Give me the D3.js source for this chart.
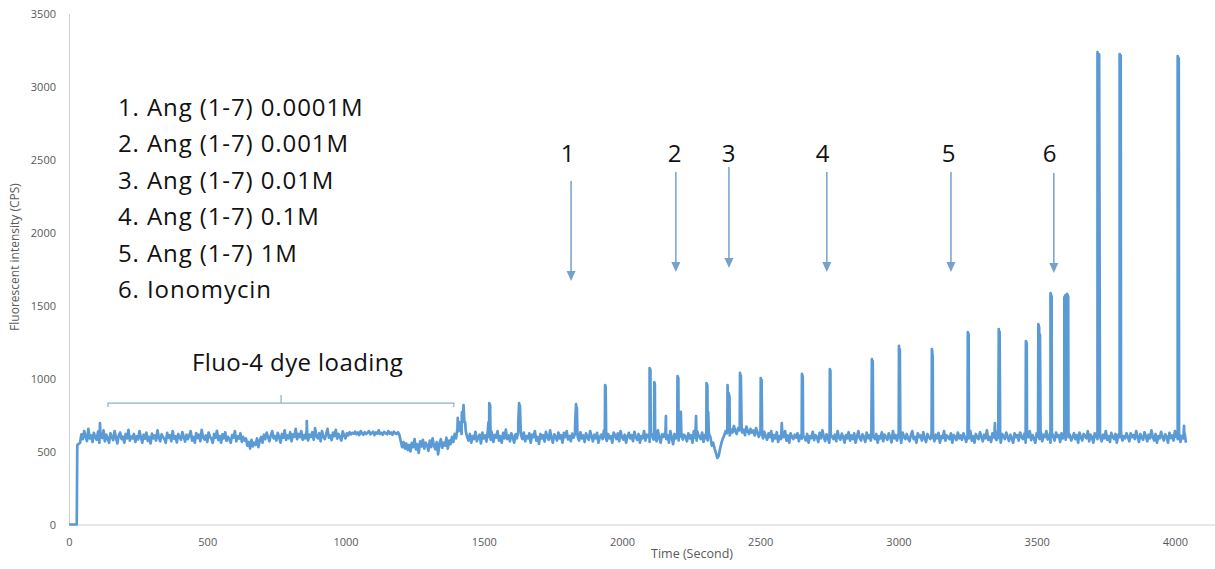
<!DOCTYPE html>
<html>
<head>
<meta charset="utf-8">
<script src="https://cdn.jsdelivr.net/npm/d3@7"></script>
<style>
  body { margin: 0; background: #fff; }
  .axis text { font-family: "Open Sans", sans-serif; font-size: 11px; fill: #595959; }
  .axis path { stroke: #d0d0d0; }
  .note { font-family: "Open Sans", sans-serif; font-size: 24px; fill: #111; letter-spacing: 0.9px; }
</style>
</head>
<body>
<script>
// x / y tick values
const X_TICKS = [0, 500, 1000, 1500, 2000, 2500, 3000, 3500, 4000];
const Y_TICKS = [0, 500, 1000, 1500, 2000, 2500, 3000, 3500];

// trace start (before dye added)
const startPoints = [[0, 0], [10, 0], [20, 0], [28, 0]];

// baseline read every 5 s, starting at t = 30 (one row = 200 s)
const BASE_T0 = 30, BASE_STEP = 5;
const baseline = [
  545,552,560,618,585,640,600,572,655,590,610,565,628,598,580,636,560,605,592,645,570,615,588,560,625,600,578,640,595,555,612,630,585,602,560,620,590,648,575,603,
  590,620,565,604,582,640,598,560,615,588,630,572,600,555,622,590,610,575,645,596,570,618,600,585,560,628,594,612,570,640,588,605,562,620,598,580,632,600,568,615,
  585,610,640,575,600,560,626,592,615,570,648,598,582,610,565,630,600,588,560,620,595,642,578,606,560,618,590,632,572,600,585,560,612,596,640,570,604,588,625,566,
  600,575,590,540,565,520,580,535,560,545,590,530,575,600,560,615,585,630,598,570,612,640,590,605,575,628,600,560,620,595,645,580,610,590,632,570,618,600,655,585,
  620,598,640,580,612,590,650,575,615,600,632,580,660,605,590,625,570,640,600,585,618,655,595,610,578,630,605,648,588,620,600,575,638,612,590,625,610,632,618,628,
  622,636,618,630,612,640,625,615,632,620,628,640,618,626,635,612,630,622,645,620,628,615,634,626,618,640,622,630,615,636,625,620,632,614,570,530,565,520,555,510,
  545,500,560,530,585,515,550,490,570,535,580,520,560,545,505,575,530,590,540,515,565,480,550,585,525,560,540,595,520,575,550,600,565,620,590,660,640,700,620,740,
  700,640,600,575,620,560,605,585,635,570,598,615,555,630,590,610,568,645,600,580,622,565,612,596,640,575,605,560,628,590,650,585,610,570,625,600,560,618,590,640,
  680,610,585,630,570,605,590,625,560,615,598,640,575,600,552,620,590,612,568,635,600,580,645,592,560,618,602,575,630,590,612,560,628,598,640,582,606,570,622,595,
  620,680,600,575,632,590,610,565,625,598,580,640,605,570,615,590,628,560,600,615,585,645,596,572,620,590,605,560,630,612,585,625,570,640,598,582,615,560,605,628,
  590,612,570,635,598,580,620,560,606,590,640,575,615,598,565,628,600,582,612,570,645,592,560,618,600,625,585,612,560,640,598,550,620,590,612,575,630,600,582,615,
  600,570,625,590,612,560,640,595,575,620,600,585,630,565,610,592,575,620,598,540,560,520,490,455,470,520,560,590,610,640,625,660,610,650,630,675,640,620,660,645,
  665,630,650,612,670,640,620,655,630,645,610,660,628,600,642,615,590,635,605,580,625,598,640,570,612,590,632,565,605,585,620,598,640,575,610,560,625,600,585,615,
  595,625,570,610,588,640,600,575,620,560,605,592,635,578,612,600,565,628,590,645,600,572,618,590,560,630,605,585,615,570,640,596,580,622,600,560,612,590,632,575,
  610,585,625,560,600,640,590,575,618,600,565,630,592,612,575,640,600,585,620,560,605,590,632,570,615,598,580,625,600,562,640,590,612,575,620,598,560,630,600,585,
  620,590,570,612,640,585,600,560,625,598,610,575,632,590,565,620,600,585,645,598,570,615,590,628,560,605,592,640,575,610,598,585,625,560,612,600,578,630,590,610,
  580,625,600,565,612,590,640,575,605,560,620,598,585,632,600,570,615,590,645,580,600,565,625,598,612,578,640,590,560,620,605,585,630,600,572,615,590,560,625,598,
  612,575,630,600,585,620,560,605,598,640,578,612,590,560,625,600,585,632,570,615,598,640,582,605,560,620,598,575,630,600,612,565,625,590,605,580,640,598,615,575,
  600,625,585,612,560,630,598,575,620,605,590,640,570,615,598,560,625,600,585,632,598,570,615,590,640,580,605,565,628,600,585,620,560,612,598,640,575,605,590,625,
  600,570,625,598,612,585,640,600,565,620,598,580,632,605,570,615,590,645,600,575,620,560,605,590,635,598,575,618,600,560,628,592,610,575,640,600,585,620,565,605,
  590,625,560
];

// responses (spikes): [time, CPS]
const spikePoints = [
  [112, 695], [114, 600], [860, 709], [862, 600],
  [1406, 730], [1412, 650], [1421, 770], [1427, 818], [1433, 700],
  [1517, 700], [1520, 832], [1523, 820], [1527, 640],
  [1625, 700], [1628, 832], [1631, 815], [1634, 640],
  [1831, 700], [1834, 825], [1837, 800], [1839, 620],
  [1938, 600], [1939, 955], [1941, 945], [1943, 590],
  [2099, 620], [2100, 1072], [2103, 1060], [2104, 640],
  [2116, 620], [2117, 976], [2119, 960], [2122, 600],
  [2157, 600], [2159, 743], [2162, 600],
  [2200, 620], [2201, 1017], [2204, 1000], [2206, 640],
  [2211, 620], [2213, 771], [2216, 620],
  [2266, 620], [2268, 743], [2272, 640],
  [2304, 620], [2306, 969], [2309, 950], [2312, 771], [2314, 640],
  [2381, 640], [2382, 955], [2386, 900], [2389, 873], [2394, 650],
  [2426, 650], [2427, 1038], [2430, 1020], [2433, 650],
  [2501, 620], [2502, 1003], [2505, 990], [2507, 620],
  [2576, 600], [2578, 695], [2580, 600],
  [2649, 600], [2651, 1031], [2654, 1010], [2656, 600],
  [2751, 600], [2752, 1065], [2754, 1050], [2756, 600],
  [2902, 600], [2904, 1133], [2907, 1120], [2909, 600],
  [3001, 600], [3002, 1223], [3005, 1200], [3007, 600],
  [3119, 600], [3121, 1202], [3124, 1150], [3126, 600],
  [3249, 600], [3251, 1318], [3254, 1300], [3256, 600],
  [3347, 600], [3349, 695], [3351, 590],
  [3361, 600], [3363, 1339], [3366, 1320], [3368, 600],
  [3459, 600], [3461, 1257], [3464, 1240], [3466, 600],
  [3504, 620], [3506, 1373], [3509, 1350], [3512, 1300], [3514, 620],
  [3548, 620], [3550, 1585], [3554, 1560], [3557, 620],
  [3598, 620], [3600, 1555], [3604, 1570], [3607, 1500], [3610, 1580], [3614, 1560], [3617, 620],
  [3718, 620], [3720, 3236], [3726, 3220], [3729, 620],
  [3798, 620], [3800, 3222], [3804, 3210], [3806, 620],
  [4008, 620], [4010, 3209], [4014, 3190], [4016, 620],
  [4031, 600], [4033, 675], [4034, 590]
];

// legend lines
const legendLines = [
  "1. Ang (1-7) 0.0001M",
  "2. Ang (1-7) 0.001M",
  "3. Ang (1-7) 0.01M",
  "4. Ang (1-7) 0.1M",
  "5. Ang (1-7) 1M",
  "6. Ionomycin"
];

// addition markers: label, time of arrow, label time, arrow top / tip (CPS units)
const arrowLabels = ["1", "2", "3", "4", "5", "6"];
const arrowTimes  = [1816, 2195, 2387, 2741, 3190, 3562];
const labelTimes  = [1805, 2192, 2387, 2727, 3183, 3548];
const arrowTops   = [2353, 2414, 2449, 2414, 2414, 2407];
const arrowTips   = [1668, 1729, 1757, 1729, 1729, 1723];

// dye loading bracket (time span, level)
const loadStart = 141, loadEnd = 1392, loadMid = 767, loadLevel = 832;

const W = 1215, H = 569;

let xScale = d3.scaleLinear().domain([0, 4145]).range([69, 1215]);
let yScale = d3.scaleLinear().domain([0, 3500]).range([524.5, 13.5]);

let svg = d3.select("body").append("svg")
  .attr("width", W)
  .attr("height", H);

// build the full trace
let trace = startPoints.concat(
  baseline.map(function(v, i) { return [BASE_T0 + i * BASE_STEP, v]; }),
  spikePoints
).sort(function(a, b) { return a[0] - b[0]; });

// x axis
svg.append("g")
  .attr("class", "axis")
  .attr("transform", "translate(0," + yScale(0) + ")")
  .call(d3.axisBottom(xScale).tickValues(X_TICKS).tickFormat(d3.format("d"))
    .tickSize(0).tickSizeOuter(0).tickPadding(14));

// y axis
svg.append("g")
  .attr("class", "axis")
  .attr("transform", "translate(" + xScale(0) + ",0)")
  .call(d3.axisLeft(yScale).tickValues(Y_TICKS).tickFormat(d3.format("d"))
    .tickSize(0).tickSizeOuter(0).tickPadding(13));

// axis titles
svg.append("text")
  .attr("x", 692).attr("y", 558)
  .attr("text-anchor", "middle")
  .style("font-family", "Open Sans, sans-serif")
  .style("font-size", "12.5px")
  .style("fill", "#595959")
  .text("Time (Second)");

svg.append("text")
  .attr("transform", "translate(19,257) rotate(-90)")
  .attr("text-anchor", "middle")
  .style("font-family", "Open Sans, sans-serif")
  .style("font-size", "12px")
  .style("fill", "#595959")
  .text("Fluorescent intensity (CPS)");

// the trace
let line = d3.line()
  .x(function(d) { return xScale(d[0]); })
  .y(function(d) { return yScale(d[1]); });

svg.append("path")
  .datum(trace)
  .attr("d", line)
  .attr("fill", "none")
  .attr("stroke", "#5b9bd5")
  .attr("stroke-width", 2.7)
  .attr("stroke-linejoin", "round");

// legend text
svg.selectAll(".legend")
  .data(legendLines)
  .enter().append("text")
    .attr("class", "note")
    .attr("x", 118)
    .attr("y", function(d, i) { return 116 + i * 36.4; })
    .text(function(d) { return d; });

// dye loading bracket
let bx0 = xScale(loadStart), bx1 = xScale(loadEnd), bxm = xScale(loadMid), by = yScale(loadLevel);
svg.append("path")
  .attr("d", "M" + bx0 + "," + (by + 4) + "V" + by + "H" + bx1 + "V" + (by + 4) +
             "M" + bxm + "," + by + "V" + (by - 8))
  .attr("fill", "none")
  .attr("stroke", "#8aaecf")
  .attr("stroke-width", 1.2);

svg.append("text")
  .attr("class", "note")
  .attr("x", 192).attr("y", 371)
  .style("letter-spacing", "0.4px")
  .text("Fluo-4 dye loading");

// arrows
let arrowColor = "#75a1ca";
arrowTimes.forEach(function(t, i) {
  let ax = xScale(t), top = yScale(arrowTops[i]), tip = yScale(arrowTips[i]);
  svg.append("line")
    .attr("x1", ax).attr("x2", ax)
    .attr("y1", top).attr("y2", tip - 8)
    .attr("stroke", arrowColor)
    .attr("stroke-width", 1.5);
  svg.append("path")
    .attr("d", "M" + (ax - 4.5) + "," + (tip - 10) + "L" + (ax + 4.5) + "," + (tip - 10) + "L" + ax + "," + tip + "Z")
    .attr("fill", arrowColor);
});

svg.selectAll(".alabel")
  .data(arrowLabels)
  .enter().append("text")
    .attr("class", "note")
    .attr("text-anchor", "middle")
    .attr("x", function(d, i) { return xScale(labelTimes[i]); })
    .attr("y", 162)
    .text(function(d) { return d; });
</script>
</body>
</html>
